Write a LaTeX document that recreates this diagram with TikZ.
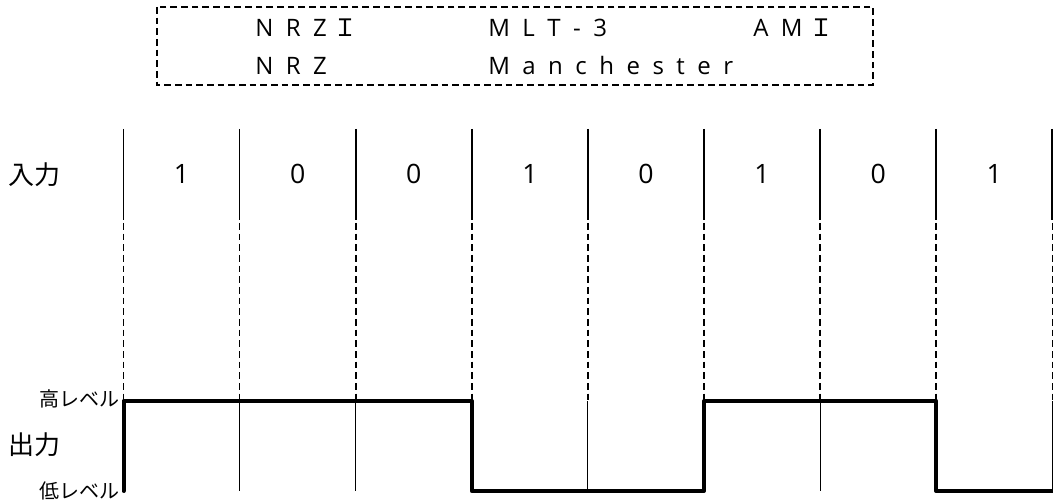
\documentclass[tikz,border=0pt]{standalone}
\usepackage{fontspec}
\setmainfont{Open Sans}
\newfontfamily\jp{Noto Sans CJK JP}

% letter-spaced words: \spaced{ABC}
\def\spaced#1{\spacedi#1\relax}
\def\spacedi#1{\ifx\relax#1\else#1\hskip0.52em\relax\expandafter\spacedi\fi}
% capital I with serifs
\newcommand\Iser{\makebox[0.55em]{\jp Ｉ}}

\begin{document}
\begin{tikzpicture}[x=0.75pt,y=-0.75pt,
  frame/.style={line width=1.1pt, dash pattern=on 5pt off 3pt},
  legend/.style={anchor=base west, inner sep=0pt, font=\fontsize{18pt}{20pt}\selectfont},
  bitlabel/.style={inner sep=0pt, font=\fontsize{20pt}{22pt}\selectfont},
  rowlabel/.style={anchor=west, inner sep=0pt, font=\jp\fontsize{19.5pt}{22pt}\selectfont},
  levellabel/.style={anchor=east, inner sep=0pt, font=\jp\fontsize{15pt}{17pt}\selectfont},
  gridline/.style={line width=1.25pt},
  guide/.style={line width=1.2pt, dash pattern=on 5pt off 3pt},
  thinline/.style={line width=0.7pt},
  wave/.style={line width=3pt, line join=round, line cap=round}]
\useasboundingbox (0,0) rectangle (1053,502);

% legend of line codes
\draw[frame] (157,7) rectangle (873,85);
\node[legend] (nrzi) at (255,37) {\spaced{NRZ\Iser}};
\node[legend] (mlt)  at (488,37) {\spaced{MLT-3}};
\node[legend] (ami)  at (753,37) {\spaced{AM\Iser}};
\node[legend] (nrz)  at (255,75) {\spaced{NRZ}};
\node[legend] (man)  at (488,75) {\spaced{Manchester}};

% bit boundaries
\foreach \k in {0,...,8}{
  \pgfmathsetmacro\xx{123.5+116.1*\k}
  \coordinate (t\k) at (\xx,129);
  \coordinate (m\k) at (\xx,220);
  \coordinate (g\k) at (\xx,223);
  \coordinate (h\k) at (\xx,401);
  \coordinate (l\k) at (\xx,491);
  \draw[gridline] (t\k) -- (m\k);
  \draw[guide] (g\k) -- (h\k);
}
\foreach \k in {1,2,4,6,8}{
  \draw[thinline] (h\k) -- (l\k);
}

% input bits
\foreach \k/\b in {0/1,1/0,2/0,3/1,4/0,5/1,6/0,7/1}{
  \node[bitlabel] (b\k) at (181.6+116.1*\k,174) {\b};
}

% row labels
\node[rowlabel] (in)  at (8,174.5) {入力};
\node[rowlabel] (out) at (8,445) {出力};
\node[levellabel] (hi) at (120,399) {高レベル};
\node[levellabel] (lo) at (120,491) {低レベル};

% output signal
\draw[wave] (l0) -- (h0) -- (h3) -- (l3) -- (l5) -- (h5) -- (h7) -- (l7) -- (l8);
\end{tikzpicture}
\end{document}
